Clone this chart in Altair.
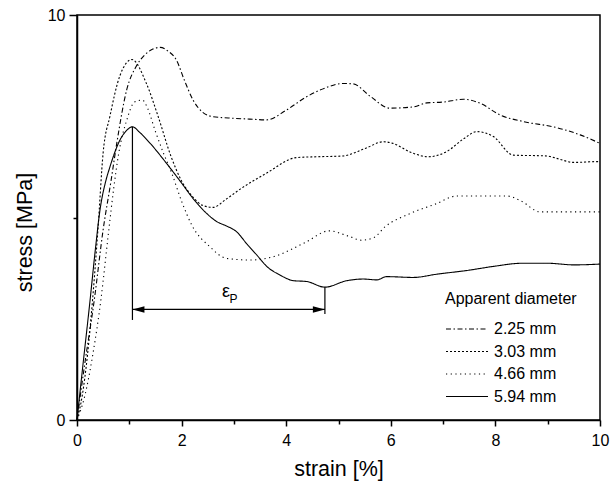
import altair as alt
import pandas as pd

# ---------------- data ----------------
series_labels = ["2.25 mm", "3.03 mm", "4.66 mm", "5.94 mm"]
series_dashes = [[5, 2.5, 1.5, 2.5], [2, 2], [1.2, 3.5], [1, 0]]

strain_225 = [0, 0.15, 0.33, 0.5, 0.65, 0.76, 0.95, 1.14, 1.3, 1.45, 1.59, 1.75, 1.9, 2.05, 2.22, 2.4,
              2.6, 2.99, 3.3, 3.63, 4.0, 4.39, 4.75, 5.09, 5.28, 5.6, 5.98, 6.43, 6.69, 7.0, 7.39,
              7.71, 8.09, 8.53, 9.17, 9.62, 10.0]
stress_225 = [0, 1.4, 2.96, 4.7, 5.9, 6.83, 8.15, 8.75, 9.02, 9.16, 9.2, 9.1, 8.89, 8.4, 7.9, 7.6,
              7.49, 7.45, 7.43, 7.41, 7.65, 7.98, 8.2, 8.31, 8.3, 8.0, 7.7, 7.73, 7.83, 7.85, 7.92,
              7.82, 7.53, 7.37, 7.22, 7.04, 6.83]

strain_303 = [0, 0.1, 0.2, 0.3, 0.4, 0.5, 0.63, 0.82, 1.05, 1.33, 1.55, 1.8, 2.0, 2.22, 2.4, 2.6,
              2.85, 3.12, 3.63, 4.2, 4.6, 5.09, 5.5, 5.86, 6.04, 6.4, 6.72, 7.07, 7.4, 7.64, 7.96,
              8.34, 8.98, 9.2, 9.49, 9.96, 10.0]
stress_303 = [0, 0.6, 1.6, 3.0, 4.7, 6.6, 7.5, 8.5, 8.9, 8.3, 7.5, 6.5, 5.9, 5.5, 5.3, 5.25,
              5.45, 5.7, 6.1, 6.48, 6.5, 6.52, 6.7, 6.87, 6.83, 6.6, 6.5, 6.63, 6.95, 7.12, 7.0,
              6.54, 6.52, 6.45, 6.36, 6.38, 6.38]

strain_466 = [0, 0.15, 0.3, 0.46, 0.6, 0.7, 0.8, 0.95, 1.1, 1.25, 1.35, 1.49, 1.65, 1.81, 2.0, 2.2,
              2.54, 2.86, 3.31, 3.75, 4.36, 4.82, 5.19, 5.44, 5.67, 5.89, 6.37, 6.85, 7.26, 8.22,
              8.5, 8.85, 9.4, 10.0]
stress_466 = [0, 0.6, 1.6, 3.0, 4.6, 5.7, 6.6, 7.4, 7.85, 7.9, 7.7, 7.16, 6.6, 6.1, 5.4, 4.8,
              4.28, 3.99, 3.95, 4.03, 4.38, 4.67, 4.54, 4.44, 4.5, 4.77, 5.1, 5.33, 5.53, 5.53,
              5.4, 5.14, 5.14, 5.14]

strain_594 = [0, 0.1, 0.25, 0.35, 0.44, 0.55, 0.63, 0.72, 0.82, 0.95, 1.06, 1.2, 1.4, 1.71, 2.0,
              2.2, 2.48, 2.67, 2.86, 3.05, 3.24, 3.44, 3.63, 3.88, 4.14, 4.39, 4.74, 5.16, 5.47,
              5.73, 5.92, 6.43, 6.88, 7.5, 8.0, 8.5, 9.0, 9.5, 10.0]
stress_594 = [0, 1.2, 2.96, 4.2, 5.19, 5.9, 6.25, 6.6, 6.91, 7.15, 7.24, 7.1, 6.83, 6.34, 5.85,
              5.5, 5.1, 4.9, 4.79, 4.65, 4.36, 4.07, 3.79, 3.58, 3.44, 3.42, 3.28, 3.44, 3.48,
              3.46, 3.54, 3.52, 3.6, 3.7, 3.8, 3.87, 3.87, 3.83, 3.85]

# annotation (epsilon_P): peak strain and end-of-drop strain
marker_strain = [1.06, 4.74]
marker_top = [7.24, 3.28]
marker_bottom = [2.47, 2.62]
arrow_stress = 2.73
eps_label_pos = [2.85, 3.17]
sub_label_pos = [2.99, 3.0]

x_ticks = list(range(0, 11))
y_ticks = [0, 5, 10]

# ---------------- build tables ----------------
rows = []
for lab, xs, ys in zip(series_labels,
                       [strain_225, strain_303, strain_466, strain_594],
                       [stress_225, stress_303, stress_466, stress_594]):
    for i, (x, y) in enumerate(zip(xs, ys)):
        rows.append({"series": lab, "strain": x, "stress": y, "order": i})
df = pd.DataFrame(rows)

marks_df = pd.DataFrame({"x": marker_strain, "top": marker_top, "bottom": marker_bottom})
arrow_df = pd.DataFrame({"x": [marker_strain[0]], "x2": [marker_strain[1]], "y": [arrow_stress]})
head_l = pd.DataFrame({"x": [marker_strain[0]], "y": [arrow_stress]})
head_r = pd.DataFrame({"x": [marker_strain[1]], "y": [arrow_stress]})
eps_df = pd.DataFrame({"x": [eps_label_pos[0]], "y": [eps_label_pos[1]], "t": ["ε"]})
sub_df = pd.DataFrame({"x": [sub_label_pos[0]], "y": [sub_label_pos[1]], "t": ["P"]})

FONT = "Liberation Sans"

xscale = alt.Scale(domain=[0, 10], nice=False, zero=False)
yscale = alt.Scale(domain=[0, 10], nice=False, zero=False)

x_axis = alt.Axis(
    values=x_ticks,
    labelExpr="datum.value % 2 == 0 ? datum.label : ''",
    tickSize={"condition": {"test": "datum.value % 2 == 0", "value": 6}, "value": 4},
    title="strain [%]",
    titlePadding=10,
    labelPadding=6,
    labelFlush=False,
)
y_axis = alt.Axis(
    values=y_ticks,
    labelExpr="datum.value == 5 ? '' : datum.label",
    tickSize={"condition": {"test": "datum.value == 5", "value": 4}, "value": 8},
    title="stress [MPa]",
    titleX=-52,
    titleY=217,
    titleAngle=270,
    titleAlign="center",
    titleBaseline="middle",
    labelPadding=4,
    labelFlush=False,
)

lines = alt.Chart(df).mark_line(color="black", strokeWidth=1.1, interpolate="monotone").encode(
    x=alt.X("strain:Q", scale=xscale, axis=x_axis),
    y=alt.Y("stress:Q", scale=yscale, axis=y_axis),
    order="order:Q",
    strokeDash=alt.StrokeDash(
        "series:N",
        scale=alt.Scale(domain=series_labels, range=series_dashes),
        legend=alt.Legend(
            title="Apparent diameter",
            orient="none",
            legendX=368,
            legendY=276,
            symbolType="stroke",
            symbolSize=1764,
            symbolStrokeWidth=1.1,
            symbolStrokeColor="black",
            clipHeight=16,
            titleFontSize=16,
            labelFontSize=16,
            titleFont=FONT,
            labelFont=FONT,
            titleFontWeight="normal",
            titleColor="black",
            labelColor="black",
            titlePadding=14,
            rowPadding=6.5,
            labelOffset=5,
            padding=0,
        ),
    ),
)

drops = alt.Chart(marks_df).mark_rule(color="black", strokeWidth=1.2).encode(
    x="x:Q", y="top:Q", y2="bottom:Q"
)
arrow = alt.Chart(arrow_df).mark_rule(color="black", strokeWidth=1.2).encode(
    x="x:Q", x2="x2:Q", y="y:Q"
)
hl = alt.Chart(head_l).mark_point(shape="M0,0L2,-0.55L2,0.55Z", filled=True, size=144,
                                  color="black", opacity=1).encode(x="x:Q", y="y:Q")
hr = alt.Chart(head_r).mark_point(shape="M0,0L-2,-0.55L-2,0.55Z", filled=True, size=144,
                                  color="black", opacity=1).encode(x="x:Q", y="y:Q")
eps = alt.Chart(eps_df).mark_text(font=FONT, fontSize=18, color="black").encode(
    x="x:Q", y="y:Q", text="t:N")
sub = alt.Chart(sub_df).mark_text(font=FONT, fontSize=12, color="black").encode(
    x="x:Q", y="y:Q", text="t:N")

chart = alt.layer(lines, drops, arrow, hl, hr, eps, sub).properties(
    width=523,
    height=405,
    padding={"left": 77, "top": 15, "right": 15, "bottom": 67},
    autosize=alt.AutoSizeParams(type="none"),
    background="white",
).configure_view(
    stroke="black", strokeWidth=1.5
).configure_axis(
    grid=False,
    domainColor="black",
    domainWidth=1.5,
    tickColor="black",
    tickWidth=1.5,
    labelFont=FONT,
    labelFontSize=16,
    labelColor="black",
    titleFont=FONT,
    titleFontSize=21.5,
    titleFontWeight="normal",
    titleColor="black",
)

chart.save("out.html", embed_options={"renderer": "svg", "actions": False})
